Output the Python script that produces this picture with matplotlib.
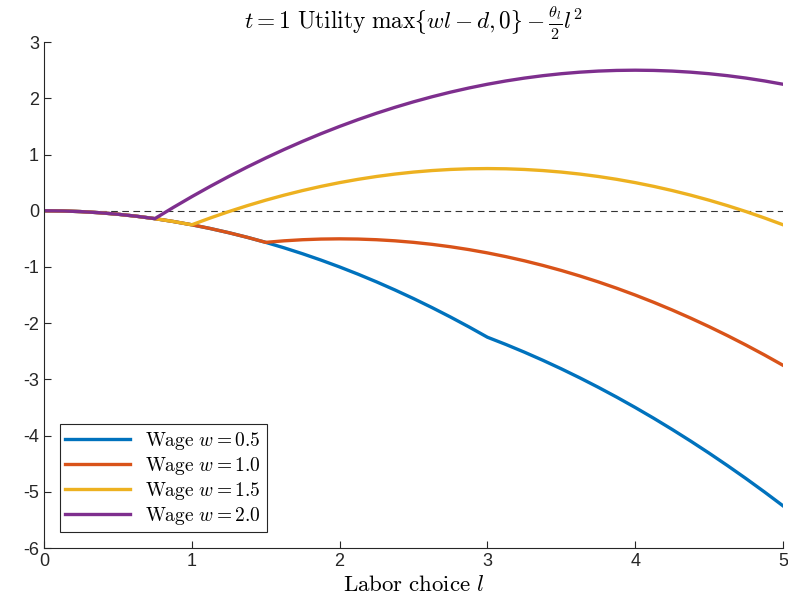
import numpy as np
import matplotlib.pyplot as plt

plt.rcParams['mathtext.fontset'] = 'cm'
plt.rcParams['font.family'] = ['Liberation Sans', 'DejaVu Sans']
plt.rcParams['axes.unicode_minus'] = False

# labor choice grid (step 1/8) and utility values
labor = [i / 8 for i in range(41)]

util_w05 = [0, -0.0039, -0.0156, -0.0352, -0.0625, -0.0977, -0.1406, -0.1914, -0.25, -0.3164,
            -0.3906, -0.4727, -0.5625, -0.6602, -0.7656, -0.8789, -1.0, -1.1289, -1.2656, -1.4102,
            -1.5625, -1.7227, -1.8906, -2.0664, -2.25, -2.3789, -2.5156, -2.6602, -2.8125, -2.9727,
            -3.1406, -3.3164, -3.5, -3.6914, -3.8906, -4.0977, -4.3125, -4.5352, -4.7656, -5.0039,
            -5.25]
util_w10 = [0, -0.0039, -0.0156, -0.0352, -0.0625, -0.0977, -0.1406, -0.1914, -0.25, -0.3164,
            -0.3906, -0.4727, -0.5625, -0.5352, -0.5156, -0.5039, -0.5, -0.5039, -0.5156, -0.5352,
            -0.5625, -0.5977, -0.6406, -0.6914, -0.75, -0.8164, -0.8906, -0.9727, -1.0625, -1.1602,
            -1.2656, -1.3789, -1.5, -1.6289, -1.7656, -1.9102, -2.0625, -2.2227, -2.3906, -2.5664,
            -2.75]
util_w15 = [0, -0.0039, -0.0156, -0.0352, -0.0625, -0.0977, -0.1406, -0.1914, -0.25, -0.1289,
            -0.0156, 0.0898, 0.1875, 0.2773, 0.3594, 0.4336, 0.5, 0.5586, 0.6094, 0.6523,
            0.6875, 0.7148, 0.7344, 0.7461, 0.75, 0.7461, 0.7344, 0.7148, 0.6875, 0.6523,
            0.6094, 0.5586, 0.5, 0.4336, 0.3594, 0.2773, 0.1875, 0.0898, -0.0156, -0.1289,
            -0.25]
util_w20 = [0, -0.0039, -0.0156, -0.0352, -0.0625, -0.0977, -0.1406, 0.0586, 0.25, 0.4336,
            0.6094, 0.7773, 0.9375, 1.0898, 1.2344, 1.3711, 1.5, 1.6211, 1.7344, 1.8398,
            1.9375, 2.0273, 2.1094, 2.1836, 2.25, 2.3086, 2.3594, 2.4023, 2.4375, 2.4648,
            2.4844, 2.4961, 2.5, 2.4961, 2.4844, 2.4648, 2.4375, 2.4023, 2.3594, 2.3086,
            2.25]

series = [util_w05, util_w10, util_w15, util_w20]
labels = [r'$\mathrm{Wage}\ w = 0.5$', r'$\mathrm{Wage}\ w = 1.0$',
          r'$\mathrm{Wage}\ w = 1.5$', r'$\mathrm{Wage}\ w = 2.0$']
colors = ['#0072BD', '#D95319', '#EDB120', '#7E2F8E']

fig = plt.figure(figsize=(7.88, 6.10), dpi=100)
ax = fig.add_axes([0.0558, 0.1016, 0.9379, 0.8294])

ax.axhline(0, color='#333333', lw=0.8, ls=(0, (6, 4)), zorder=1)
for y, lab, c in zip(series, labels, colors):
    ax.plot(labor, y, color=c, lw=2.4, label=lab, zorder=2)

ax.set_xlim(0, 5)
ax.set_ylim(-6, 3)
ax.set_xticks(range(0, 6))
ax.set_yticks(range(-6, 4))
ax.spines['top'].set_visible(False)
ax.spines['right'].set_visible(False)
for s in ['left', 'bottom']:
    ax.spines[s].set_color('#262626')
    ax.spines[s].set_linewidth(0.8)
ax.tick_params(direction='in', length=5, width=0.8, colors='#262626', labelsize=13)

ax.set_xlabel(r'$\mathrm{Labor\ choice}\ l$', fontsize=16.5, labelpad=2)
ax.set_title(r'$t=1\ \mathrm{Utility}\ \max\lbrace wl-d,0\rbrace-\frac{\theta_l}{2}l^2$',
             fontsize=16.8, pad=8)

leg = ax.legend(loc='lower left', fontsize=14, fancybox=False, framealpha=1,
                edgecolor='#262626', borderaxespad=0.8, handlelength=3.3,
                labelspacing=0.15, borderpad=0.3)
leg.get_frame().set_linewidth(0.8)

plt.savefig('out.png', dpi=100)
